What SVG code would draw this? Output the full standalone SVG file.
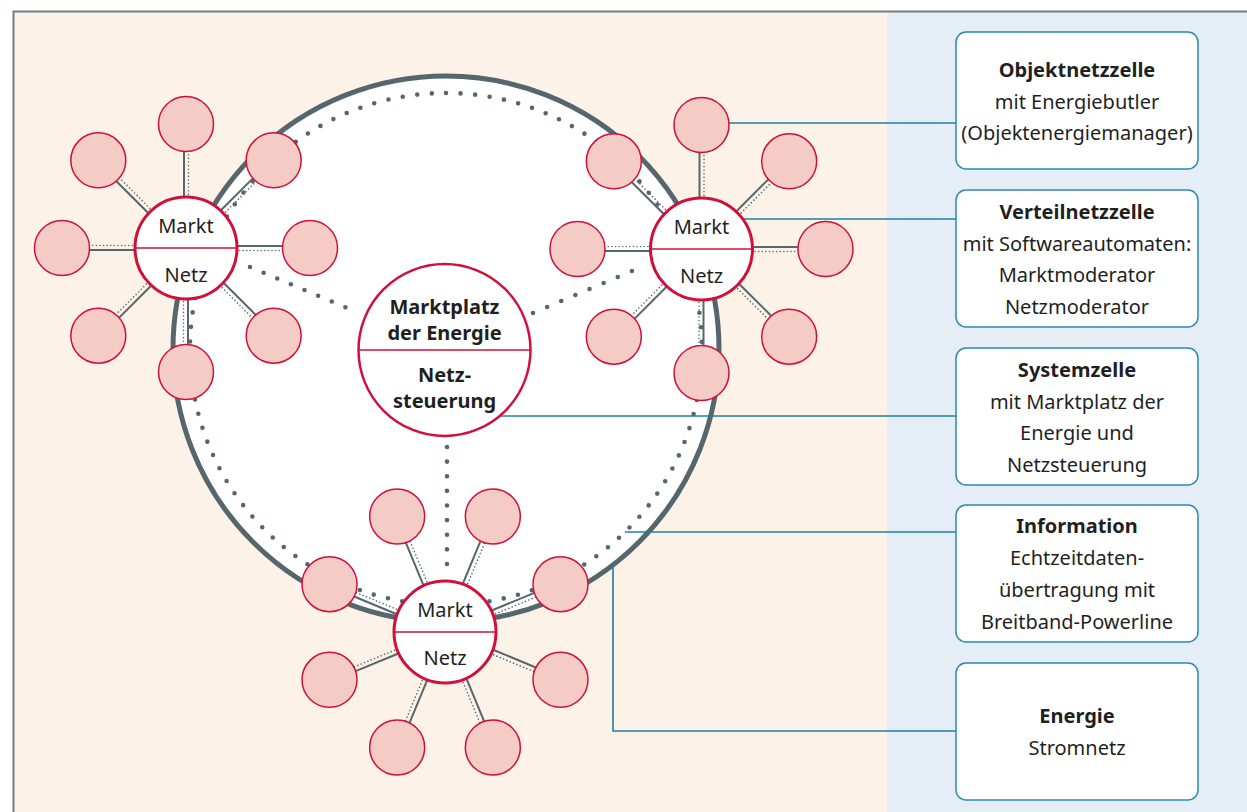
<svg xmlns="http://www.w3.org/2000/svg" xmlns:xlink="http://www.w3.org/1999/xlink" width="1247" height="812" viewBox="0 0 1247 812">
<style>
.txt{font-family:"Noto Sans","Liberation Sans",sans-serif;font-size:20px;fill:#1f1f1f;text-anchor:middle}
.b{font-weight:bold}
.sat{fill:#f4cbc5;stroke:#d0103a;stroke-width:1.5}
.hub{fill:#fff;stroke:#d0103a;stroke-width:3}
.div{stroke:#d0103a;stroke-width:1.5}
.sl{stroke:#56666d;stroke-width:2;fill:none}
.dl{stroke:#56666d;stroke-width:1.6;stroke-dasharray:0 3.6;stroke-linecap:round;fill:none}
.bd{stroke:#56666d;stroke-width:4.6;stroke-linecap:round;fill:none}
.tl{stroke:#1c7fa6;stroke-width:1.6;fill:none}
.box{fill:#fff;stroke:#2a8ab0;stroke-width:1.5}
</style>
<defs>
<g id="sp124"><line x1="50" y1="-2" x2="96.5" y2="-2" class="sl"/><line x1="50" y1="2.5" x2="96.5" y2="2.5" class="dl"/></g>
<g id="sp125"><line x1="50" y1="-2" x2="97.5" y2="-2" class="sl"/><line x1="50" y1="2.5" x2="97.5" y2="2.5" class="dl"/></g>
</defs>
<g id="background">
<rect x="14" y="12" width="873" height="800" fill="#fdf2e8"/>
<rect x="887" y="12" width="360" height="800" fill="#e5eef6"/>
<path d="M13.5 812 V11.5 H1247" fill="none" stroke="#6f7e83" stroke-width="2"/>
</g>
<g id="energie-netz">
<circle cx="446" cy="349" r="273" fill="#fff" stroke="#56666d" stroke-width="5"/>
<circle cx="446" cy="349" r="256" class="bd" stroke-dasharray="0 14.62" transform="rotate(-90 446 349)"/>
</g>
<g id="connectors">
<line x1="250" y1="267" x2="359" y2="313" class="bd" stroke-dasharray="0 14.79"/>
<line x1="533" y1="313" x2="646" y2="265" class="bd" stroke-dasharray="0 15.35"/>
<line x1="447" y1="447" x2="447" y2="564" class="bd" stroke-dasharray="0 14.62"/>
<g transform="translate(186 248)">
<use xlink:href="#sp124" transform="rotate(-90)"/><use xlink:href="#sp124" transform="rotate(-45)"/>
<use xlink:href="#sp124"/><use xlink:href="#sp124" transform="rotate(45)"/>
<use xlink:href="#sp124" transform="rotate(90)"/><use xlink:href="#sp124" transform="rotate(135)"/>
<use xlink:href="#sp124" transform="rotate(180)"/><use xlink:href="#sp124" transform="rotate(-135)"/>
</g>
<g transform="translate(701.5 249)">
<use xlink:href="#sp124" transform="rotate(-90)"/><use xlink:href="#sp124" transform="rotate(-45)"/>
<use xlink:href="#sp124"/><use xlink:href="#sp124" transform="rotate(45)"/>
<use xlink:href="#sp124" transform="rotate(90)"/><use xlink:href="#sp124" transform="rotate(135)"/>
<use xlink:href="#sp124" transform="rotate(180)"/><use xlink:href="#sp124" transform="rotate(-135)"/>
</g>
<g transform="translate(445 632)">
<use xlink:href="#sp125" transform="rotate(-112.5)"/><use xlink:href="#sp125" transform="rotate(-67.5)"/>
<use xlink:href="#sp125" transform="rotate(-22.5)"/><use xlink:href="#sp125" transform="rotate(22.5)"/>
<use xlink:href="#sp125" transform="rotate(67.5)"/><use xlink:href="#sp125" transform="rotate(112.5)"/>
<use xlink:href="#sp125" transform="rotate(157.5)"/><use xlink:href="#sp125" transform="rotate(-157.5)"/>
</g>
<line x1="729" y1="123" x2="956" y2="123" class="tl"/>
<line x1="742" y1="219" x2="956" y2="219" class="tl"/>
<line x1="501" y1="416" x2="956" y2="416" class="tl"/>
<line x1="625" y1="532" x2="956" y2="532" class="tl"/>
<polyline points="613,565 613,731 956,731" class="tl"/>
</g>
<g id="satellites-left">
<circle cx="186" cy="124" r="27.5" class="sat"/>
<circle cx="273.68" cy="160.32" r="27.5" class="sat"/>
<circle cx="310" cy="248" r="27.5" class="sat"/>
<circle cx="273.68" cy="335.68" r="27.5" class="sat"/>
<circle cx="186" cy="372" r="27.5" class="sat"/>
<circle cx="98.32" cy="335.68" r="27.5" class="sat"/>
<circle cx="62" cy="248" r="27.5" class="sat"/>
<circle cx="98.32" cy="160.32" r="27.5" class="sat"/>
</g>
<g id="satellites-right">
<circle cx="701.5" cy="125" r="27.5" class="sat"/>
<circle cx="789.18" cy="161.32" r="27.5" class="sat"/>
<circle cx="825.5" cy="249" r="27.5" class="sat"/>
<circle cx="789.18" cy="336.68" r="27.5" class="sat"/>
<circle cx="701.5" cy="373" r="27.5" class="sat"/>
<circle cx="613.82" cy="336.68" r="27.5" class="sat"/>
<circle cx="577.5" cy="249" r="27.5" class="sat"/>
<circle cx="613.82" cy="161.32" r="27.5" class="sat"/>
</g>
<g id="satellites-bottom">
<circle cx="397.16" cy="516.51" r="27.5" class="sat"/>
<circle cx="492.84" cy="516.51" r="27.5" class="sat"/>
<circle cx="560.49" cy="584.16" r="27.5" class="sat"/>
<circle cx="560.49" cy="679.84" r="27.5" class="sat"/>
<circle cx="492.84" cy="747.49" r="27.5" class="sat"/>
<circle cx="397.16" cy="747.49" r="27.5" class="sat"/>
<circle cx="329.51" cy="679.84" r="27.5" class="sat"/>
<circle cx="329.51" cy="584.16" r="27.5" class="sat"/>
</g>
<g id="hub-left">
<circle cx="186" cy="248" r="51" class="hub"/>
<line x1="135" y1="248" x2="237" y2="248" class="div"/>
<text x="186" y="233" class="txt">Markt</text>
<text x="186" y="282" class="txt">Netz</text>
</g>
<g id="hub-right">
<circle cx="701.5" cy="249" r="51" class="hub"/>
<line x1="650.5" y1="249" x2="752.5" y2="249" class="div"/>
<text x="701.5" y="233.5" class="txt">Markt</text>
<text x="701.5" y="282.5" class="txt">Netz</text>
</g>
<g id="hub-bottom">
<circle cx="445" cy="632" r="51" class="hub"/>
<line x1="394" y1="632" x2="496" y2="632" class="div"/>
<text x="445" y="616.5" class="txt">Markt</text>
<text x="445" y="665" class="txt">Netz</text>
</g>
<g id="systemzelle-center">
<circle cx="444.5" cy="350" r="86" fill="#fff" stroke="#d0103a" stroke-width="2.5"/>
<line x1="358.5" y1="350" x2="530.5" y2="350" class="div"/>
<text x="444.5" y="314" class="txt b">Marktplatz</text>
<text x="444.5" y="340" class="txt b">der Energie</text>
<text x="444.5" y="382" class="txt b">Netz-</text>
<text x="444.5" y="408" class="txt b">steuerung</text>
</g>
<g id="box-objektnetzzelle">
<rect x="956" y="32" width="242" height="137" rx="10" class="box"/>
<text x="1077" y="77" class="txt b">Objektnetzzelle</text>
<text x="1077" y="108.5" class="txt">mit Energiebutler</text>
<text x="1077" y="140" class="txt">(Objektenergiemanager)</text>
</g>
<g id="box-verteilnetzzelle">
<rect x="956" y="190" width="242" height="137" rx="10" class="box"/>
<text x="1077" y="219" class="txt b">Verteilnetzzelle</text>
<text x="1077" y="250.5" class="txt">mit Softwareautomaten:</text>
<text x="1077" y="282" class="txt">Marktmoderator</text>
<text x="1077" y="313.5" class="txt">Netzmoderator</text>
</g>
<g id="box-systemzelle">
<rect x="956" y="348" width="242" height="137" rx="10" class="box"/>
<text x="1077" y="377" class="txt b">Systemzelle</text>
<text x="1077" y="408.5" class="txt">mit Marktplatz der</text>
<text x="1077" y="440" class="txt">Energie und</text>
<text x="1077" y="471.5" class="txt">Netzsteuerung</text>
</g>
<g id="box-information">
<rect x="956" y="505" width="242" height="137" rx="10" class="box"/>
<text x="1077" y="533" class="txt b">Information</text>
<text x="1077" y="565" class="txt">Echtzeitdaten-</text>
<text x="1077" y="597" class="txt">übertragung mit</text>
<text x="1077" y="629" class="txt">Breitband-Powerline</text>
</g>
<g id="box-energie">
<rect x="956" y="663" width="242" height="137" rx="10" class="box"/>
<text x="1077" y="723" class="txt b">Energie</text>
<text x="1077" y="755" class="txt">Stromnetz</text>
</g>
</svg>
